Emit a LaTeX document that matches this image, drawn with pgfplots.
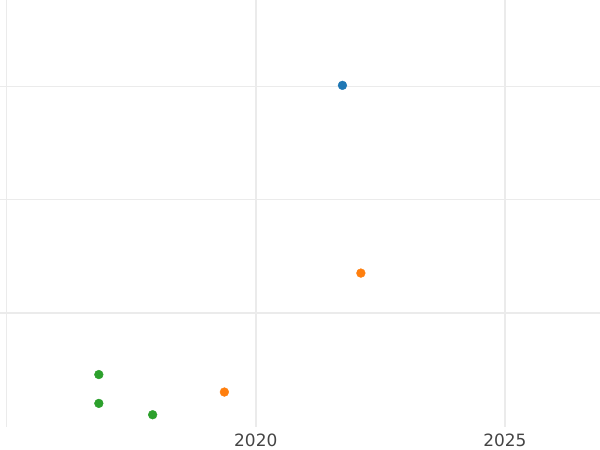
\documentclass[border=0pt]{standalone}
\usepackage{fontspec}
\setmainfont{DejaVu Sans}
\usepackage{pgfplots}
\pgfplotsset{compat=1.18}
\definecolor{pBlue}{HTML}{1F77B4}
\definecolor{pOrange}{HTML}{FF7F0E}
\definecolor{pGreen}{HTML}{2CA02C}
\definecolor{gridc}{HTML}{EBEBEB}
\definecolor{tickc}{HTML}{444444}
\begin{document}
\begin{tikzpicture}
\begin{axis}[
  at={(0,23bp)}, anchor=south west,
  scale only axis, width=600bp, height=427bp,
  xmin=2014.866, xmax=2026.91,
  ymin=-1.004, ymax=2.758,
  axis line style={draw=none},
  major tick length=0pt,
  xtick={2015,2020,2025}, xticklabels={{},2020,2025},
  ytick={1,2}, yticklabels={},
  xmajorgrids, ymajorgrids,
  x grid style={draw=gridc, line width=1.6bp},
  y grid style={draw=gridc, line width=1bp},
  xticklabel style={font=\fontsize{17}{20}\selectfont, text=tickc, inner sep=0pt, yshift=-7bp},
  /pgf/number format/assume math mode=true,
  clip=false,
]
% zero line
\draw[gridc, line width=2.2bp] (axis cs:2014.866,0) -- (axis cs:2026.91,0);
\addplot[only marks, mark=*, mark size=4.4bp, color=pBlue] coordinates {(2021.74,2.006)};
\addplot[only marks, mark=*, mark size=4.4bp, color=pOrange] coordinates {(2022.11,0.352)(2019.37,-0.696)};
\addplot[only marks, mark=*, mark size=4.4bp, color=pGreen] coordinates {(2016.85,-0.542)(2016.85,-0.796)(2017.93,-0.896)};
\end{axis}
\pgfresetboundingbox
\useasboundingbox (0,0) rectangle (600bp,450bp);
\end{tikzpicture}
\end{document}
